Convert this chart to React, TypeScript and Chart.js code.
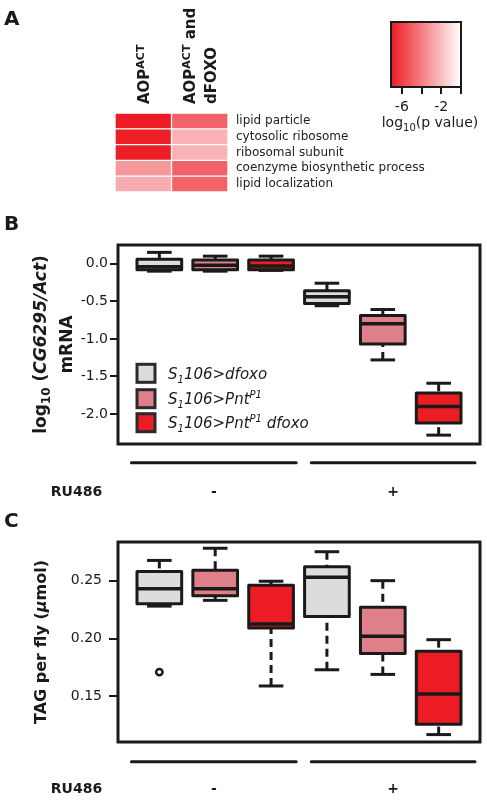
import React, { useEffect, useRef } from 'react';
import { Chart, registerables } from 'chart.js';
Chart.register(...registerables);

const FONT = '"DejaVu Sans", "Liberation Sans", sans-serif';
const INK = '#1a1a1a';
Chart.defaults.font.family = FONT;
Chart.defaults.color = INK;

// ---------------- Panel A data ----------------
const termLabels = [
  'lipid particle',
  'cytosolic ribosome',
  'ribosomal subunit',
  'coenzyme biosynthetic process',
  'lipid localization',
];
const aopActLog10P = [-7.1, -7.0, -7.0, -3.2, -2.6];
const aopActFoxoLog10P = [-4.9, -2.4, -2.4, -4.9, -4.9];
const colorbarRange: [number, number] = [-7.1, 0];
const colorbarTicks = [-6, -4, -2, 0];
const colorbarTickLabels = ['-6', '', '-2', ''];

// ---------------- Panels B & C shared ----------------
const boxPositions = [1, 2, 3, 4, 5, 6];
const ru486Labels = ['-', '+'];
const ru486Ranges: [number, number][] = [[0.5, 3.45], [3.72, 6.65]];

// ---------------- Panel B data: log10(CG6295/Act) mRNA ----------------
const mrnaLow = [-0.1, -0.1, -0.09, -0.56, -1.28, -2.28];
const mrnaQ1 = [-0.08, -0.08, -0.08, -0.53, -1.07, -2.12];
const mrnaMedian = [-0.04, -0.02, -0.03, -0.44, -0.8, -1.9];
const mrnaQ3 = [0.06, 0.05, 0.05, -0.36, -0.69, -1.72];
const mrnaHigh = [0.15, 0.1, 0.1, -0.26, -0.61, -1.59];
const mrnaTicks = [0, -0.5, -1, -1.5, -2];
const mrnaTickLabels = ['0.0', '-0.5', '-1.0', '-1.5', '-2.0'];
const mrnaRange: [number, number] = [-2.398, 0.248];

// ---------------- Panel C data: TAG per fly ----------------
const tagLow = [0.228, 0.233, 0.159, 0.173, 0.169, 0.117];
const tagQ1 = [0.23, 0.237, 0.209, 0.219, 0.187, 0.126];
const tagMedian = [0.243, 0.243, 0.2125, 0.253, 0.202, 0.152];
const tagQ3 = [0.258, 0.259, 0.246, 0.262, 0.227, 0.189];
const tagHigh = [0.2675, 0.278, 0.2495, 0.275, 0.25, 0.199];
const tagOutlierX = [1];
const tagOutlierY = [0.171];
const tagTicks = [0.15, 0.2, 0.25];
const tagTickLabels = ['0.15', '0.20', '0.25'];
const tagRange: [number, number] = [0.1106, 0.2834];

// ---------------- styles ----------------
const RED = [236, 28, 36];
const groupColors = ['#dcdcdc', '#df7f89', '#ec1c24', '#dcdcdc', '#df7f89', '#ec1c24'];
const legendColors = ['#dcdcdc', '#df7f89', '#ec1c24'];
const CAP = 0.22;

type Piece = { t: string; size: number; bold?: boolean; italic?: boolean; dy?: number };
const fontOf = (p: Piece) => `${p.italic ? 'italic ' : ''}${p.bold ? 'bold ' : ''}${p.size}px ${FONT}`;
function drawRich(ctx: CanvasRenderingContext2D, pieces: Piece[], x: number, y: number, align: 'left' | 'center') {
  let w = 0;
  pieces.forEach((p) => { ctx.font = fontOf(p); w += ctx.measureText(p.t).width; });
  let cx = align === 'center' ? x - w / 2 : x;
  ctx.textAlign = 'left';
  ctx.textBaseline = 'alphabetic';
  pieces.forEach((p) => {
    ctx.font = fontOf(p);
    ctx.fillText(p.t, cx, y + (p.dy || 0));
    cx += ctx.measureText(p.t).width;
  });
}
function seg(ctx: CanvasRenderingContext2D, x1: number, y1: number, x2: number, y2: number) {
  ctx.beginPath(); ctx.moveTo(x1, y1); ctx.lineTo(x2, y2); ctx.stroke();
}
function heatColor(v: number) {
  const t = Math.min(1, Math.max(0, (v - colorbarRange[0]) / (colorbarRange[1] - colorbarRange[0])));
  const c = RED.map((k) => Math.round(k + (255 - k) * t));
  return `rgb(${c.join(',')})`;
}

const baseOpts = {
  responsive: false,
  animation: false as const,
  events: [] as any[],
  plugins: { legend: { display: false }, tooltip: { enabled: false } },
};

// column headers for heatmap
const headerColumns: Piece[][][] = [
  [[{ t: 'AOP', size: 15, bold: true }, { t: 'ACT', size: 11, bold: true, dy: -5 }]],
  [
    [{ t: 'AOP', size: 15, bold: true }, { t: 'ACT', size: 11, bold: true, dy: -5 }, { t: ' and', size: 15, bold: true }],
    [{ t: 'dFOXO', size: 15, bold: true }],
  ],
];

function makeHeat(canvas: HTMLCanvasElement) {
  return new Chart(canvas, {
    type: 'bar',
    data: {
      labels: termLabels,
      datasets: [
        { data: termLabels.map(() => [0, 1]) as any, backgroundColor: aopActLog10P.map(heatColor) },
        { data: termLabels.map(() => [1, 2]) as any, backgroundColor: aopActFoxoLog10P.map(heatColor) },
      ],
    },
    options: {
      ...baseOpts,
      indexAxis: 'y',
      layout: { padding: { left: 115, top: 113, bottom: 8, right: 0 } },
      datasets: { bar: { grouped: false, barPercentage: 1, categoryPercentage: 1, borderWidth: 1, borderColor: '#ffffff', borderSkipped: false } as any },
      scales: {
        x: { type: 'linear', min: 0, max: 2, display: false, offset: false },
        y: {
          position: 'right',
          grid: { display: false, drawTicks: false },
          border: { display: false },
          ticks: { font: { size: 12, family: FONT }, color: '#222', padding: 8, autoSkip: false },
          afterFit: (s: any) => { s.width = 259; s.paddingTop = 0; s.paddingBottom = 0; },
        },
      },
    } as any,
    plugins: [{
      id: 'heatDecor',
      afterDraw(chart: any) {
        const ctx = chart.ctx as CanvasRenderingContext2D;
        const xs = chart.scales.x;
        ctx.save();
        ctx.fillStyle = INK;
        drawRich(ctx, [{ t: 'A', size: 20, bold: true }], 4, 25, 'left');
        const bottom = 104;
        headerColumns.forEach((lines, ci) => {
          const cx = xs.getPixelForValue(ci + 0.5);
          const n = lines.length;
          lines.forEach((pieces, li) => {
            const center = cx + (li - (n - 1) / 2) * 21;
            ctx.save();
            ctx.translate(0, bottom);
            ctx.rotate(-Math.PI / 2);
            drawRich(ctx, pieces, 0, center + 5.5, 'left');
            ctx.restore();
          });
        });
        ctx.restore();
      },
    }],
  });
}

function makeColorbar(canvas: HTMLCanvasElement) {
  return new Chart(canvas, {
    type: 'bar',
    data: {
      labels: ['scale'],
      datasets: [{
        data: [colorbarRange] as any,
        backgroundColor: (c: any) => {
          const ca = c.chart.chartArea;
          if (!ca) return heatColor(colorbarRange[0]);
          const g = c.chart.ctx.createLinearGradient(ca.left, 0, ca.right, 0);
          g.addColorStop(0, heatColor(colorbarRange[0]));
          g.addColorStop(1, heatColor(colorbarRange[1]));
          return g;
        },
        borderWidth: 0,
        barPercentage: 1,
        categoryPercentage: 1,
      }],
    },
    options: {
      ...baseOpts,
      indexAxis: 'y',
      layout: { padding: { left: 21, right: 26, top: 22, bottom: 0 } },
      scales: {
        y: { display: false },
        x: {
          type: 'linear', min: colorbarRange[0], max: colorbarRange[1], offset: false,
          afterBuildTicks: (s: any) => { s.ticks = colorbarTicks.map((v) => ({ value: v })); },
          afterFit: (s: any) => { s.height = 53; },
          grid: { drawOnChartArea: false, drawTicks: true, tickLength: 7, color: INK, lineWidth: 2 },
          border: { display: false },
          ticks: {
            callback: (v: any) => colorbarTickLabels[colorbarTicks.indexOf(v)] ?? '',
            font: { size: 14, family: FONT }, color: INK, padding: 5, maxRotation: 0, autoSkip: false,
          },
        },
      },
    } as any,
    plugins: [{
      id: 'cbDecor',
      afterDraw(chart: any) {
        const ctx = chart.ctx as CanvasRenderingContext2D;
        const a = chart.chartArea;
        ctx.save();
        ctx.strokeStyle = INK; ctx.lineWidth = 2;
        ctx.strokeRect(a.left, a.top, a.right - a.left, a.bottom - a.top);
        ctx.fillStyle = INK;
        drawRich(ctx, [
          { t: 'log', size: 14 }, { t: '10', size: 10, dy: 4 }, { t: '(p value)', size: 14 },
        ], 60, 127, 'center');
        ctx.restore();
      },
    }],
  });
}

type BoxCfg = {
  low: number[]; q1: number[]; med: number[]; q3: number[]; high: number[];
  outX: number[]; outY: number[]; range: [number, number]; ticks: number[]; tickLabels: string[];
  padTop: number; padBottom: number; tickLength: number; tickPad: number;
  letter: string; letterY: number; lineY: number; ruY: number;
  drawTitle: (ctx: CanvasRenderingContext2D, yc: number) => void;
  legend: boolean;
};

const legendEntries: Piece[][] = [
  [{ t: 'S', size: 15, italic: true }, { t: '1', size: 10, italic: true, dy: 4 }, { t: '106>dfoxo', size: 15, italic: true }],
  [{ t: 'S', size: 15, italic: true }, { t: '1', size: 10, italic: true, dy: 4 }, { t: '106>Pnt', size: 15, italic: true }, { t: 'P1', size: 10, italic: true, dy: -6 }],
  [{ t: 'S', size: 15, italic: true }, { t: '1', size: 10, italic: true, dy: 4 }, { t: '106>Pnt', size: 15, italic: true }, { t: 'P1', size: 10, italic: true, dy: -6 }, { t: ' dfoxo', size: 15, italic: true }],
];

function makeBoxChart(canvas: HTMLCanvasElement, cfg: BoxCfg) {
  return new Chart(canvas, {
    type: 'bar',
    data: {
      datasets: [
        {
          type: 'bar',
          data: boxPositions.map((p, i) => ({ x: p, y: [cfg.q1[i], cfg.q3[i]] })) as any,
          backgroundColor: groupColors,
          borderWidth: 0,
          barPercentage: 0.8,
          categoryPercentage: 1,
        } as any,
        {
          type: 'scatter',
          data: cfg.outX.map((x, i) => ({ x, y: cfg.outY[i] })),
          pointRadius: 3.2,
          pointBorderWidth: 2.5,
          pointBorderColor: INK,
          pointBackgroundColor: 'rgba(0,0,0,0)',
          showLine: false,
        } as any,
      ],
    },
    options: {
      ...baseOpts,
      layout: { padding: { left: 0, right: 7, top: cfg.padTop, bottom: cfg.padBottom } },
      scales: {
        x: { type: 'linear', min: 0.26, max: 6.74, display: false, offset: false },
        y: {
          type: 'linear', min: cfg.range[0], max: cfg.range[1],
          afterBuildTicks: (s: any) => { s.ticks = cfg.ticks.map((v) => ({ value: v })); },
          afterFit: (s: any) => { s.width = 118; },
          grid: { drawOnChartArea: false, drawTicks: true, tickLength: cfg.tickLength, color: INK, lineWidth: 2 },
          border: { display: false },
          ticks: {
            callback: (v: any) => cfg.tickLabels[cfg.ticks.indexOf(v)] ?? '',
            font: { size: 14, family: FONT }, color: INK, padding: cfg.tickPad, autoSkip: false,
          },
        },
      },
    } as any,
    plugins: [{
      id: 'boxDraw',
      beforeDatasetsDraw(chart: any) {
        // whiskers and staples, drawn under the box fills
        const ctx = chart.ctx as CanvasRenderingContext2D;
        const xs = chart.scales.x, ys = chart.scales.y;
        ctx.save();
        ctx.strokeStyle = INK;
        ctx.lineWidth = 3;
        boxPositions.forEach((p, i) => {
          const cx = xs.getPixelForValue(p);
          const capL = xs.getPixelForValue(p - CAP), capR = xs.getPixelForValue(p + CAP);
          const yLo = ys.getPixelForValue(cfg.low[i]);
          const yQ1 = ys.getPixelForValue(cfg.q1[i]);
          const yQ3 = ys.getPixelForValue(cfg.q3[i]);
          const yHi = ys.getPixelForValue(cfg.high[i]);
          ctx.setLineDash([8, 5]);
          seg(ctx, cx, yHi, cx, yQ3);
          seg(ctx, cx, yLo, cx, yQ1);
          ctx.setLineDash([]);
          seg(ctx, capL, yHi, capR, yHi);
          seg(ctx, capL, yLo, capR, yLo);
        });
        ctx.restore();
      },
      afterDatasetsDraw(chart: any) {
        const ctx = chart.ctx as CanvasRenderingContext2D;
        const ys = chart.scales.y;
        const bars = chart.getDatasetMeta(0).data;
        ctx.save();
        ctx.strokeStyle = INK;
        ctx.lineJoin = 'round';
        boxPositions.forEach((p, i) => {
          const yMed = ys.getPixelForValue(cfg.med[i]);
          const b = bars[i].getProps(['x', 'y', 'base', 'width'], true);
          const left = b.x - b.width / 2, right = b.x + b.width / 2;
          ctx.lineWidth = 3.5;
          seg(ctx, left, yMed, right, yMed);
          ctx.lineWidth = 3;
          ctx.strokeRect(left, Math.min(b.y, b.base), b.width, Math.abs(b.base - b.y));
        });
        ctx.restore();
      },
      afterDraw(chart: any) {
        const ctx = chart.ctx as CanvasRenderingContext2D;
        const a = chart.chartArea;
        const xs = chart.scales.x;
        ctx.save();
        ctx.strokeStyle = INK; ctx.fillStyle = INK;
        ctx.lineWidth = 3;
        ctx.strokeRect(a.left, a.top, a.right - a.left, a.bottom - a.top);
        drawRich(ctx, [{ t: cfg.letter, size: 20, bold: true }], 4, cfg.letterY, 'left');
        cfg.drawTitle(ctx, (a.top + a.bottom) / 2);
        if (cfg.legend) {
          const rows = [128.3, 153.7, 177.7];
          legendEntries.forEach((pieces, i) => {
            const yc = a.top + rows[i];
            ctx.fillStyle = legendColors[i];
            ctx.fillRect(a.left + 19, yc - 9, 18, 18);
            ctx.strokeStyle = '#2a2a2a'; ctx.lineWidth = 3;
            ctx.strokeRect(a.left + 19, yc - 9, 18, 18);
            ctx.fillStyle = INK;
            drawRich(ctx, pieces, a.left + 50, yc + 5.5, 'left');
          });
        }
        ctx.strokeStyle = INK; ctx.lineWidth = 3; ctx.lineCap = 'round';
        ru486Ranges.forEach(([s, e], i) => {
          const x1 = xs.getPixelForValue(s), x2 = xs.getPixelForValue(e);
          seg(ctx, x1, cfg.lineY, x2, cfg.lineY);
          ctx.fillStyle = INK;
          drawRich(ctx, [{ t: ru486Labels[i], size: 14, bold: true }], (x1 + x2) / 2, cfg.ruY, 'center');
        });
        drawRich(ctx, [{ t: 'RU486', size: 14, bold: true }], 76.5, cfg.ruY, 'center');
        ctx.restore();
      },
    }],
  });
}

const panelB: BoxCfg = {
  low: mrnaLow, q1: mrnaQ1, med: mrnaMedian, q3: mrnaQ3, high: mrnaHigh,
  outX: [], outY: [], range: mrnaRange, ticks: mrnaTicks, tickLabels: mrnaTickLabels,
  padTop: 45, padBottom: 56, tickLength: 8, tickPad: 2,
  letter: 'B', letterY: 30, lineY: 262.7, ruY: 295.5, legend: true,
  drawTitle: (ctx, yc) => {
    ctx.save();
    ctx.translate(0, yc);
    ctx.rotate(-Math.PI / 2);
    drawRich(ctx, [
      { t: 'log', size: 17, bold: true }, { t: '10', size: 12, bold: true, dy: 4 }, { t: ' (', size: 17, bold: true },
      { t: 'CG6295/Act', size: 17, bold: true, italic: true }, { t: ')', size: 17, bold: true },
    ], 0, 46, 'center');
    drawRich(ctx, [{ t: 'mRNA', size: 17, bold: true }], 0, 72, 'center');
    ctx.restore();
  },
};

const panelC: BoxCfg = {
  low: tagLow, q1: tagQ1, med: tagMedian, q3: tagQ3, high: tagHigh,
  outX: tagOutlierX, outY: tagOutlierY, range: tagRange, ticks: tagTicks, tickLabels: tagTickLabels,
  padTop: 42, padBottom: 58, tickLength: 9, tickPad: 7,
  letter: 'C', letterY: 27, lineY: 261.7, ruY: 293.3, legend: false,
  drawTitle: (ctx, yc) => {
    ctx.save();
    ctx.translate(0, yc);
    ctx.rotate(-Math.PI / 2);
    drawRich(ctx, [
      { t: 'TAG per fly (', size: 16, bold: true }, { t: 'μ', size: 16, bold: true, italic: true }, { t: 'mol)', size: 16, bold: true },
    ], 0, 46, 'center');
    ctx.restore();
  },
};

export default function App() {
  const aRef = useRef<HTMLCanvasElement>(null);
  const cbRef = useRef<HTMLCanvasElement>(null);
  const bRef = useRef<HTMLCanvasElement>(null);
  const cRef = useRef<HTMLCanvasElement>(null);
  useEffect(() => {
    const charts = [
      makeHeat(aRef.current!),
      makeColorbar(cbRef.current!),
      makeBoxChart(bRef.current!, panelB),
      makeBoxChart(cRef.current!, panelC),
    ];
    return () => charts.forEach((c) => c.destroy());
  }, []);
  return (
    <div style={{ position: 'absolute', left: 0, top: 0, width: 487, height: 800, background: '#fff', overflow: 'hidden' }}>
      <canvas ref={aRef} width={487} height={200} style={{ position: 'absolute', left: 0, top: 0 }} />
      <canvas ref={cbRef} width={117} height={140} style={{ position: 'absolute', left: 370, top: 0 }} />
      <canvas ref={bRef} width={487} height={300} style={{ position: 'absolute', left: 0, top: 200 }} />
      <canvas ref={cRef} width={487} height={300} style={{ position: 'absolute', left: 0, top: 500 }} />
    </div>
  );
}
